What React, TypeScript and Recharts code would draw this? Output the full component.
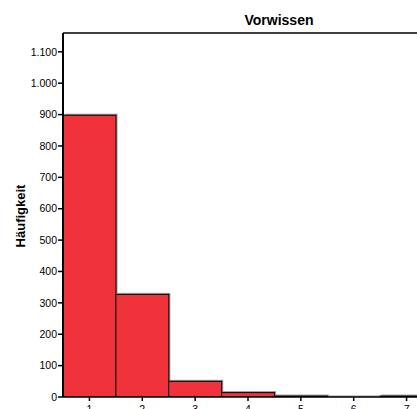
import React from "react";
import { BarChart, Bar, XAxis, YAxis, ReferenceLine } from "recharts";

const categories = ["1", "2", "3", "4", "5", "6", "7"];
const counts = [898, 327, 50, 14, 3, 0, 3];
const yTicks = [0, 100, 200, 300, 400, 500, 600, 700, 800, 900, 1000, 1100];
const yMax = 1160;
const title = "Vorwissen";
const yLabel = "Häufigkeit";

const data = categories.map((c, i) => ({ cat: c, count: counts[i] }));

const fmt = (v: number) => v.toLocaleString("de-DE");

const BarShape = (props: any) => {
  const { x, y, width, height } = props;
  if (width == null) return null;
  return (
    <g>
      <rect x={x + 1.5} y={y - 1.5} width={width} height={height + 1.5} fill="#9a9a9a" />
      <rect x={x} y={y} width={width} height={height} fill="#F0323A" stroke="#000" strokeWidth={1} />
    </g>
  );
};

export default function App() {
  return (
    <div
      style={{
        position: "absolute",
        left: 0,
        top: 0,
        width: 417,
        height: 409,
        overflow: "hidden",
        background: "#fff",
        fontFamily: "'Liberation Sans', Arial, sans-serif",
      }}
    >
      <BarChart
        width={440}
        height={409}
        data={data}
        margin={{ top: 33, right: 7, bottom: 0, left: 0 }}
        barCategoryGap={0}
        barGap={0}
      >
        <XAxis
          dataKey="cat"
          height={12}
          tickSize={4}
          tickMargin={5}
          axisLine={{ stroke: "#000", strokeWidth: 1.5 }}
          tickLine={{ stroke: "#000", strokeWidth: 1.5 }}
          tick={{ fill: "#000", fontSize: 10.5 }}
          interval={0}
        />
        <YAxis
          width={63}
          domain={[0, yMax]}
          ticks={yTicks}
          tickFormatter={fmt}
          tickSize={5}
          tickMargin={1}
          axisLine={{ stroke: "#000", strokeWidth: 2 }}
          tickLine={{ stroke: "#000", strokeWidth: 1.5 }}
          tick={{ fill: "#000", fontSize: 10.5 }}
          allowDataOverflow
        />
        <Bar dataKey="count" shape={<BarShape />} isAnimationActive={false} />
        <ReferenceLine y={yMax} stroke="#000" strokeWidth={1.5} ifOverflow="visible" />
      </BarChart>
      <svg
        width={417}
        height={409}
        style={{ position: "absolute", left: 0, top: 0, pointerEvents: "none" }}
      >
        <text x={279} y={25} textAnchor="middle" fontWeight="bold" fontSize={14} fill="#000"
          fontFamily="'Liberation Sans', Arial, sans-serif">
          {title}
        </text>
        <text
          x={0}
          y={0}
          transform="translate(24.5,216) rotate(-90)"
          textAnchor="middle"
          fontWeight="bold"
          fontSize={13}
          fill="#000"
          fontFamily="'Liberation Sans', Arial, sans-serif"
        >
          {yLabel}
        </text>
      </svg>
    </div>
  );
}
